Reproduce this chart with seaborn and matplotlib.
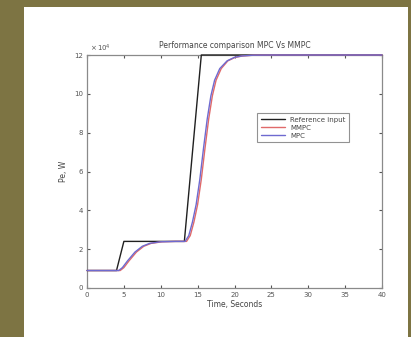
import numpy as np
import pandas as pd
import matplotlib
matplotlib.use('Agg')
import matplotlib.pyplot as plt
from matplotlib.patches import Rectangle
import seaborn as sns

# values (y in units of 10^4 W)
ref_t = [0, 4.0, 5.0, 13.2, 15.5, 40]
ref_y = [0.9, 0.9, 2.4, 2.4, 12.0, 12.0]

mpc_t = [0, 4.3, 4.8, 5.5, 6.5, 7.5, 8.5, 10, 12, 13.3, 13.8, 14.3, 14.8, 15.3,
         15.8, 16.3, 16.8, 17.3, 18, 19, 20, 21, 22.5, 25, 40]
mpc_y = [0.9, 0.9, 1.05, 1.4, 1.85, 2.15, 2.3, 2.38, 2.4, 2.4, 2.7, 3.4, 4.3, 5.6,
         7.2, 8.7, 9.9, 10.7, 11.3, 11.7, 11.88, 11.95, 11.99, 12.0, 12.0]

mmpc_t = [0, 4.5, 5.0, 5.7, 6.7, 7.7, 8.7, 10.2, 12, 13.5, 14.0, 14.5, 15.0, 15.5,
          16.0, 16.5, 17.0, 17.5, 18.2, 19.1, 20.1, 21.1, 22.6, 25, 40]
mmpc_y = [0.9, 0.9, 1.05, 1.4, 1.85, 2.15, 2.3, 2.38, 2.4, 2.4, 2.7, 3.4, 4.3, 5.6,
          7.2, 8.7, 9.9, 10.7, 11.3, 11.7, 11.88, 11.95, 11.99, 12.0, 12.0]

x_ticks = [0, 5, 10, 15, 20, 25, 30, 35, 40]
y_ticks = [0, 2, 4, 6, 8, 10, 12]

df = pd.concat([
    pd.DataFrame({'t': ref_t, 'P': ref_y, 'series': 'Reference input'}),
    pd.DataFrame({'t': mmpc_t, 'P': mmpc_y, 'series': 'MMPC'}),
    pd.DataFrame({'t': mpc_t, 'P': mpc_y, 'series': 'MPC'}),
])

sns.set_style('ticks')
plt.rcParams['font.family'] = ['DejaVu Sans']

fig = plt.figure(figsize=(4.11, 3.37), dpi=100)
fig.patch.set_facecolor('#7d7443')
fig.add_artist(Rectangle((24 / 411, 0), (408 - 24) / 411, 330 / 337,
                         transform=fig.transFigure, facecolor='white',
                         edgecolor='none', zorder=0))

ax = fig.add_axes([87 / 411, 49 / 337, 295 / 411, 233 / 337])
palette = {'Reference input': '#202020', 'MMPC': '#e06a6a', 'MPC': '#6e6ad0'}
sns.lineplot(data=df, x='t', y='P', hue='series', palette=palette,
             sort=False, estimator=None, linewidth=1.0, ax=ax)
for ln in ax.lines:
    ln.set_clip_on(False)
    ln.set_zorder(3)

ax.set_xlim(0, 40)
ax.set_ylim(0, 12)
ax.set_xticks(x_ticks)
ax.set_yticks(y_ticks)
ax.tick_params(direction='in', length=2.5, labelsize=5, colors='#555555',
               top=True, right=True, pad=3)
for s in ax.spines.values():
    s.set_color('#8a8a8a')
    s.set_linewidth(0.9)
    s.set_zorder(2)

ax.set_title('Performance comparison MPC Vs MMPC', fontsize=5.5,
             color='#444444', pad=5)
ax.set_xlabel('Time, Seconds', fontsize=5.5, color='#444444', labelpad=1)
ax.set_ylabel('Pe, W', fontsize=5.5, color='#444444', labelpad=4)
ax.text(0.01, 1.005, r'$\times\,10^{4}$', transform=ax.transAxes,
        fontsize=5, color='#555555', va='bottom')

leg = ax.legend(loc='upper left', bbox_to_anchor=(0.565, 0.765), fontsize=5,
                frameon=True, fancybox=False, handlelength=3.5,
                borderpad=0.5, labelspacing=0.3)
leg.get_frame().set_edgecolor('#777777')
leg.get_frame().set_linewidth(0.8)
for t in leg.get_texts():
    t.set_color('#444444')

fig.savefig('out.png', dpi=100, facecolor=fig.get_facecolor())
